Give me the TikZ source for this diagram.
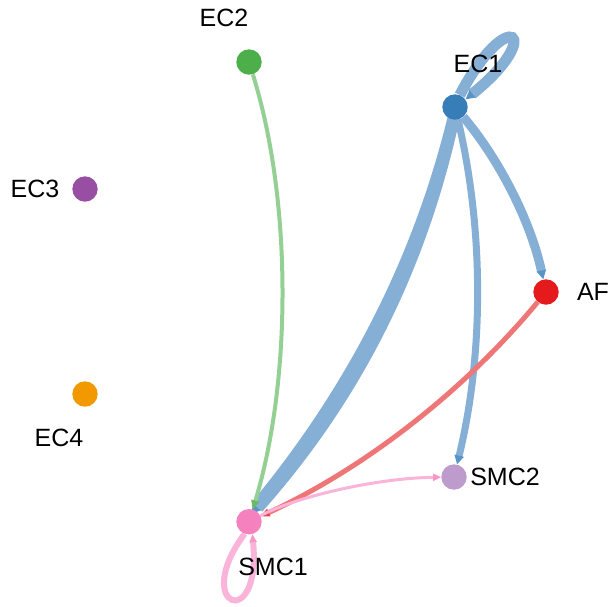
\documentclass[tikz,border=0pt]{standalone}
\usepackage{fontspec}
\setmainfont{Liberation Sans}
\usetikzlibrary{arrows.meta,calc,backgrounds}
\definecolor{cEC1}{RGB}{55,126,184}
\definecolor{cEC2}{RGB}{77,175,74}
\definecolor{cEC3}{RGB}{152,78,163}
\definecolor{cEC4}{RGB}{243,153,0}
\definecolor{cAF}{RGB}{228,26,28}
\definecolor{cSMC1}{RGB}{245,130,190}
\definecolor{cSMC2}{RGB}{190,155,205}
\definecolor{eblue}{RGB}{133,175,212}
\definecolor{tblue}{RGB}{90,148,198}
\definecolor{egreen}{RGB}{148,207,147}
\definecolor{tgreen}{RGB}{105,185,102}
\definecolor{ered}{RGB}{239,118,119}
\definecolor{tred}{RGB}{230,70,72}
\definecolor{epink}{RGB}{250,179,217}
\definecolor{tpink}{RGB}{248,150,200}
\begin{document}
\begin{tikzpicture}[x=1pt,y=-1pt,
  vert/.style={circle,inner sep=0pt,minimum size=25.4pt,draw=none},
  lab/.style={font=\fontsize{25}{30}\selectfont,inner sep=0pt,text=black},
  bluearrow/.style={-{Triangle[length=9pt,width=9pt,color=tblue]}},
  greenarrow/.style={-{Triangle[length=9pt,width=8pt,color=tgreen]}},
  redarrow/.style={-{Triangle[length=9pt,width=8pt,color=tred]}},
  pinkarrow/.style={-{Triangle[length=8pt,width=7pt,color=tpink]}}]
\useasboundingbox (0,0) rectangle (615,606);

% vertices
\node[vert,fill=cEC1]  (ec1)  at (455,107) {};
\node[vert,fill=cEC2]  (ec2)  at (249,62) {};
\node[vert,fill=cEC3]  (ec3)  at (85,189) {};
\node[vert,fill=cEC4]  (ec4)  at (85,394) {};
\node[vert,fill=cAF]   (af)   at (546,292) {};
\node[vert,fill=cSMC2] (smc2) at (454,477) {};
\node[vert,fill=cSMC1] (smc1) at (249,521.7) {};

\begin{scope}[on background layer]
  % EC1 -> SMC1 (thick, tapered)
  \fill[eblue] ($(ec1)+(5.9,6.3)$) .. controls (428.9,264.2) and (364.2,397.1) ..
     ($(smc1)+(13.3,-10.1)$) -- ($(smc1)+(2.7,-19.3)$)
     .. controls (346.4,388.1) and (414.5,257.0) .. ($(ec1)+(-5.9,3.7)$) -- cycle;
  \fill[tblue] ($(smc1)+(11.8,-11.4)$) -- ($(smc1)+(2.1,-7.9)$) -- ($(smc1)+(4.2,-18)$) -- cycle;
  % EC2 -> SMC1
  \draw[line width=4pt,egreen,greenarrow] (ec2) .. controls (292,200) and (292,380) .. (smc1);
  % EC1 -> AF
  \draw[line width=9pt,eblue,bluearrow] (ec1) .. controls (500.6,161.2) and (531,222.8) .. (af);
  % EC1 -> SMC2
  \draw[line width=7pt,eblue,bluearrow] (ec1) .. controls (484,230) and (484,353) .. (smc2);
  % AF -> SMC1
  \draw[line width=5pt,ered,redarrow] (af) .. controls (464,391) and (365,468) .. (smc1);
  % SMC1 -> SMC2
  \draw[line width=3pt,epink,pinkarrow] (smc1) .. controls (300,495) and (380,478) .. (smc2);
  % loops
  \draw[line width=11pt,eblue,bluearrow] (ec1.68) .. controls (508,3) and (547,34) .. (ec1.36);
  \draw[line width=6pt,epink,pinkarrow] (smc1.250) .. controls (190,607) and (262,634) .. (smc1.285);
\end{scope}

% labels
\node[lab] (lec1)  at (478,64)  {EC1};
\node[lab] (lec2)  at (224,18)  {EC2};
\node[lab] (lec3)  at (35,189)  {EC3};
\node[lab] (lec4)  at (59,438)  {EC4};
\node[lab] (laf)   at (593,292) {AF};
\node[lab] (lsmc2) at (505,477) {SMC2};
\node[lab] (lsmc1) at (273,567) {SMC1};
\end{tikzpicture}
\end{document}
